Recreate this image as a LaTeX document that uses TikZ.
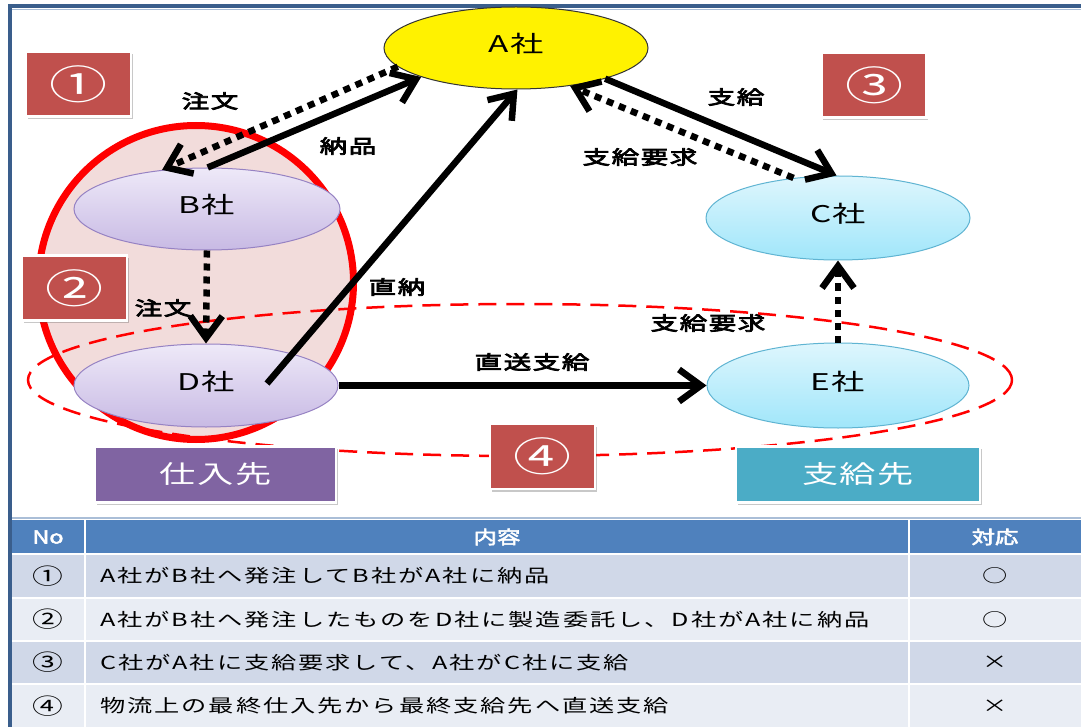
\documentclass[tikz,border=0pt]{standalone}
\usepackage{fontspec}
\usetikzlibrary{shapes.geometric,arrows.meta,shadows}
\newfontfamily\jp[FakeStretch=1.45,LetterSpace=6]{Noto Sans CJK JP}
\newfontfamily\jpb[FakeStretch=1.45,FakeBold=4,LetterSpace=8]{Noto Sans CJK JP}
\newfontfamily\jpt[FakeStretch=1.4,LetterSpace=11]{Noto Sans CJK JP}
\newfontfamily\jptb[FakeStretch=1.3,FakeBold=3]{Noto Sans CJK JP}
\definecolor{frameblue}{RGB}{58,94,140}
\definecolor{framelight}{RGB}{170,190,215}
\definecolor{boxred}{RGB}{192,80,77}
\definecolor{boxpurple}{RGB}{128,100,162}
\definecolor{boxteal}{RGB}{75,172,198}
\definecolor{lavtop}{RGB}{238,233,248}
\definecolor{lavbot}{RGB}{200,186,228}
\definecolor{lavline}{RGB}{150,130,195}
\definecolor{cyatop}{RGB}{222,246,253}
\definecolor{cyabot}{RGB}{160,230,250}
\definecolor{cyaline}{RGB}{95,180,210}
\definecolor{pinkfill}{RGB}{242,220,219}
\definecolor{hdrblue}{RGB}{79,129,189}
\definecolor{rowdark}{RGB}{208,216,232}
\definecolor{rowlight}{RGB}{233,237,244}
\tikzset{
  co/.style={ellipse, inner sep=0pt, line width=1pt, text depth=10pt, font=\jp\fontsize{23}{23}\selectfont, text=black},
  lav/.style={co, draw=lavline, top color=lavtop, bottom color=lavbot},
  cya/.style={co, draw=cyaline, top color=cyatop, bottom color=cyabot},
  shad/.style={drop shadow={shadow xshift=1.5pt, shadow yshift=-2.5pt, opacity=0.3, fill=black!70}},
  numbox/.style={rectangle, shad, fill=boxred, draw=white, line width=2.5pt, minimum width=105pt, minimum height=65pt, inner sep=0pt, text=white, font=\jp\fontsize{40}{40}\selectfont},
  catbox/.style={rectangle, shad, draw=white, line width=2.5pt, minimum width=244pt, minimum height=56pt, inner sep=0pt, text=white, font=\jp\fontsize{25}{25}\selectfont},
  lbl/.style={inner sep=0pt, font=\jpb\fontsize{19}{19}\selectfont},
  solidarr/.style={line width=6.5pt, -{Straight Barb[length=22pt,width=32pt]}},
  dotarr/.style={solidarr, dash pattern=on 7pt off 6pt},
  cell/.style={inner sep=0pt, font=\jpt\fontsize{18}{18}\selectfont},
  ncell/.style={inner sep=0pt, font=\jpt\fontsize{22}{22}\selectfont},
  hcell/.style={inner sep=0pt, text=white, font=\jptb\fontsize{18}{18}\selectfont},
}
\begin{document}
\begin{tikzpicture}[x=1pt,y=-1pt]
\useasboundingbox (0,0) rectangle (1081,727);
\fill[white] (0,0) rectangle (1081,727);
% frame
\fill[frameblue] (8,4) rectangle (1081,8);
\fill[frameblue] (8,4) rectangle (12,727);
\draw[framelight, line width=1pt] (12,9.5) -- (1081,9.5);
\draw[framelight, line width=1.5pt] (12,518) -- (1081,518);

% group ellipses
\node[ellipse, draw=red, fill=pinkfill, line width=7pt, minimum width=315pt, minimum height=314pt, inner sep=0pt] (R) at (196,282.5) {};
\node[ellipse, draw=red, line width=2.5pt, dash pattern=on 18pt off 10pt, minimum width=984pt, minimum height=152pt, inner sep=0pt] (S) at (520,380) {};

% companies
\node[co, draw=black!80, fill=yellow, minimum width=264pt, minimum height=82pt] (A) at (516,48) {A社};
\node[lav, minimum width=266pt, minimum height=82pt] (B) at (207,209) {B社};
\node[lav, minimum width=264pt, minimum height=83pt] (D) at (206,385.5) {D社};
\node[cya, minimum width=264pt, minimum height=84pt] (C) at (838,218) {C社};
\node[cya, minimum width=262pt, minimum height=85pt] (E) at (838,385.5) {E社};

% number boxes
\node[numbox] (n1) at (78.5,84) {①};
\node[numbox] (n2) at (74.5,288) {②};
\node[numbox] (n3) at (874,85) {③};
\node[numbox] (n4) at (542.5,456.5) {④};

% category boxes
\node[catbox, fill=boxpurple, minimum width=241pt] (sup) at (215.5,474.5) {仕入先};
\node[catbox, fill=boxteal] (cus) at (858,474.5) {支給先};

% connectors
\coordinate (dn) at ([xshift=61pt,yshift=2pt]D.center);
\draw[dotarr] (A.189) -- (B.139);
\draw[solidarr] (B.89) -- (A.197);
\draw[solidarr] (dn) -- (A.-88);
\draw[solidarr] (A.-19) -- (C.92);
\draw[dotarr] (C.138) -- (A.-35);
\draw[dotarr] (B.south) -- (D.north);
\draw[dotarr] (E.north) -- (C.south);
\draw[solidarr] (D.east) -- (E.west);

% labels
\node[lbl] (l1) at (210,101) {注文};
\node[lbl] (l2) at (348,146) {納品};
\node[lbl] (l3) at (736,97) {支給};
\node[lbl] (l4) at (640,157) {支給要求};
\node[lbl] (l5) at (397,287) {直納};
\node[lbl] (l6) at (163,308) {注文};
\node[lbl] (l7) at (708,323) {支給要求};
\node[lbl] (l8) at (532,362) {直送支給};

% table
\fill[hdrblue] (12,520) rectangle (1081,553);
\fill[rowdark] (12,555) rectangle (1081,597);
\fill[rowlight] (12,599) rectangle (1081,640);
\fill[rowdark] (12,642) rectangle (1081,683);
\fill[rowlight] (12,685) rectangle (1081,727);
\draw[white, line width=2pt] (85,520) -- (85,727);
\draw[white, line width=2pt] (909,520) -- (909,727);

\node[hcell] (h1) at (48,537) {No};
\node[hcell] (h2) at (497,537) {内容};
\node[hcell] (h3) at (995,537) {対応};

\node[ncell] (r1n) at (48,576) {①};
\node[cell, anchor=west] (r1t) at (100,576) {A社がB社へ発注してB社がA社に納品};
\node[cell] (r1m) at (995,576) {○};
\node[ncell] (r2n) at (48,619.5) {②};
\node[cell, anchor=west] (r2t) at (100,619.5) {A社がB社へ発注したものをD社に製造委託し、D社がA社に納品};
\node[cell] (r2m) at (995,619.5) {○};
\node[ncell] (r3n) at (48,662.5) {③};
\node[cell, anchor=west] (r3t) at (100,662.5) {C社がA社に支給要求して、A社がC社に支給};
\node[cell] (r3m) at (995,662.5) {×};
\node[ncell] (r4n) at (48,706) {④};
\node[cell, anchor=west] (r4t) at (100,706) {物流上の最終仕入先から最終支給先へ直送支給};
\node[cell] (r4m) at (995,706) {×};
\end{tikzpicture}
\end{document}
